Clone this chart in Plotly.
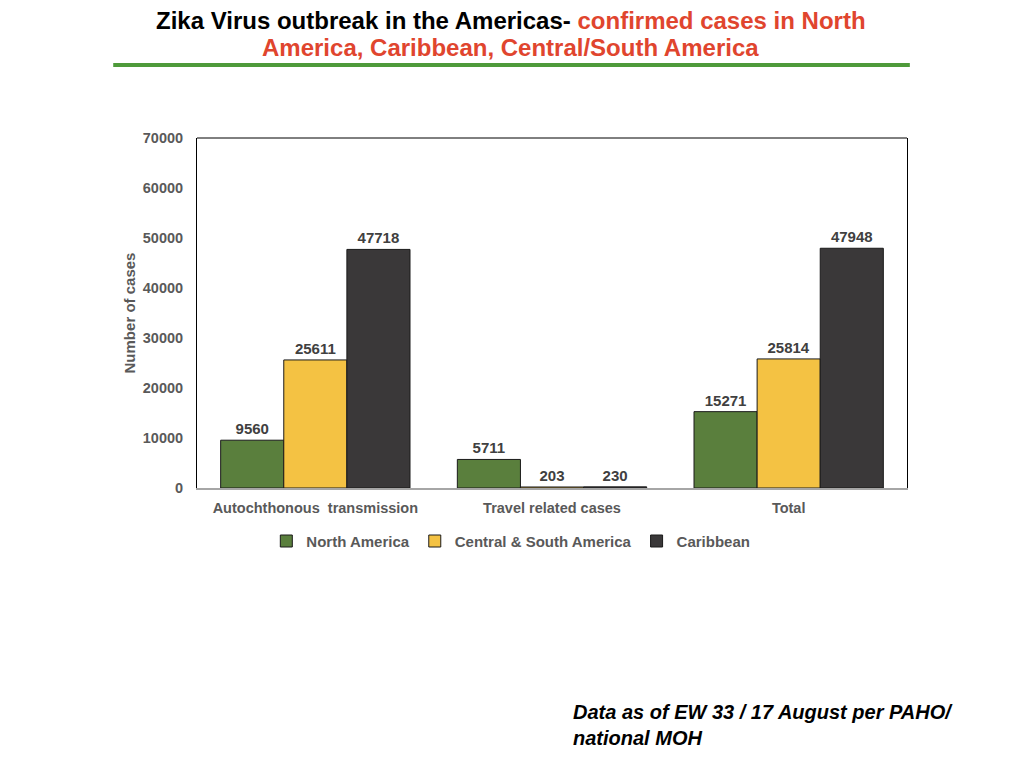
import plotly.graph_objects as go

categories = ["Autochthonous  transmission", "Travel related cases", "Total"]
north_america = [9560, 5711, 15271]
central_south_america = [25611, 203, 25814]
caribbean = [47718, 230, 47948]
y_ticks = [0, 10000, 20000, 30000, 40000, 50000, 60000, 70000]

series = [
    ("North America", north_america, "#5a7f3d"),
    ("Central & South America", central_south_america, "#f4c243"),
    ("Caribbean", caribbean, "#3a3839"),
]

fig = go.Figure()
for name, vals, color in series:
    fig.add_trace(
        go.Bar(
            x=categories,
            y=vals,
            name=f"<b>{name}</b>",
            marker=dict(color=color, line=dict(color="#1a1a1a", width=1)),
            text=[f"<b>{v}</b>" for v in vals],
            textposition="outside",
            textfont=dict(size=15, color="#404040"),
            cliponaxis=False,
        )
    )

# page has an 8px body margin, so margins are shifted by that
fig.update_layout(
    width=1024,
    height=768,
    margin=dict(l=189, r=125, t=130, b=288),
    paper_bgcolor="white",
    plot_bgcolor="white",
    barmode="group",
    bargap=0.2,
    bargroupgap=0,
    font=dict(family="Liberation Sans, Arial, sans-serif", color="#595959"),
    showlegend=True,
    legend=dict(
        orientation="h",
        x=0.442,
        xanchor="center",
        y=-0.105,
        yanchor="top",
        font=dict(size=15, color="#595959"),
        itemwidth=30,
    ),
)

fig.update_yaxes(
    range=[0, 70000],
    showgrid=False,
    showline=True,
    linecolor="black",
    linewidth=1,
    mirror=True,
    ticks="",
    ticklabelstandoff=10,
    tickfont=dict(size=14.5, color="#595959"),
    tickvals=y_ticks,
    ticktext=[f"<b>{v}</b>" for v in y_ticks],
    title=dict(text="<b>Number of cases</b>", font=dict(size=15, color="#595959"), standoff=3),
)
fig.update_xaxes(
    showline=True,
    linecolor="#a6a6a6",
    linewidth=2,
    ticks="",
    ticklabelstandoff=6,
    tickfont=dict(size=14.5, color="#595959"),
    tickvals=categories,
    ticktext=[f"<b>{c}</b>" for c in categories],
)

# top border of the plot frame
fig.add_shape(type="line", xref="paper", yref="paper", x0=0, x1=1, y0=1, y1=1,
              line=dict(color="black", width=1))

# green rule under title
fig.add_shape(type="line", xref="paper", yref="paper", x0=-0.118, x1=1.004,
              y0=1.2086, y1=1.2086, line=dict(color="#4e9a3a", width=4))

title_font = "Liberation Sans, Arial, sans-serif"
fig.add_annotation(
    xref="paper", yref="paper", x=0.442, y=1.337, xanchor="center", yanchor="middle",
    text="<b>Zika Virus outbreak in the Americas- <span style='color:#e0452e'>confirmed cases in North</span></b>",
    showarrow=False, font=dict(family=title_font, size=24, color="black"),
)
fig.add_annotation(
    xref="paper", yref="paper", x=0.442, y=1.258, xanchor="center", yanchor="middle",
    text="<b>America, Caribbean, Central/South America</b>",
    showarrow=False, font=dict(family=title_font, size=24, color="#e0452e"),
)

fig.add_annotation(
    xref="paper", yref="paper", x=0.5268, y=-0.677, xanchor="left", yanchor="middle",
    text="<b><i>Data as of EW 33 / 17 August per PAHO/<br>national MOH</i></b>",
    align="left", showarrow=False,
    font=dict(family="Liberation Sans, Arial, sans-serif", size=20, color="black"),
)

fig.write_html("out.html")
